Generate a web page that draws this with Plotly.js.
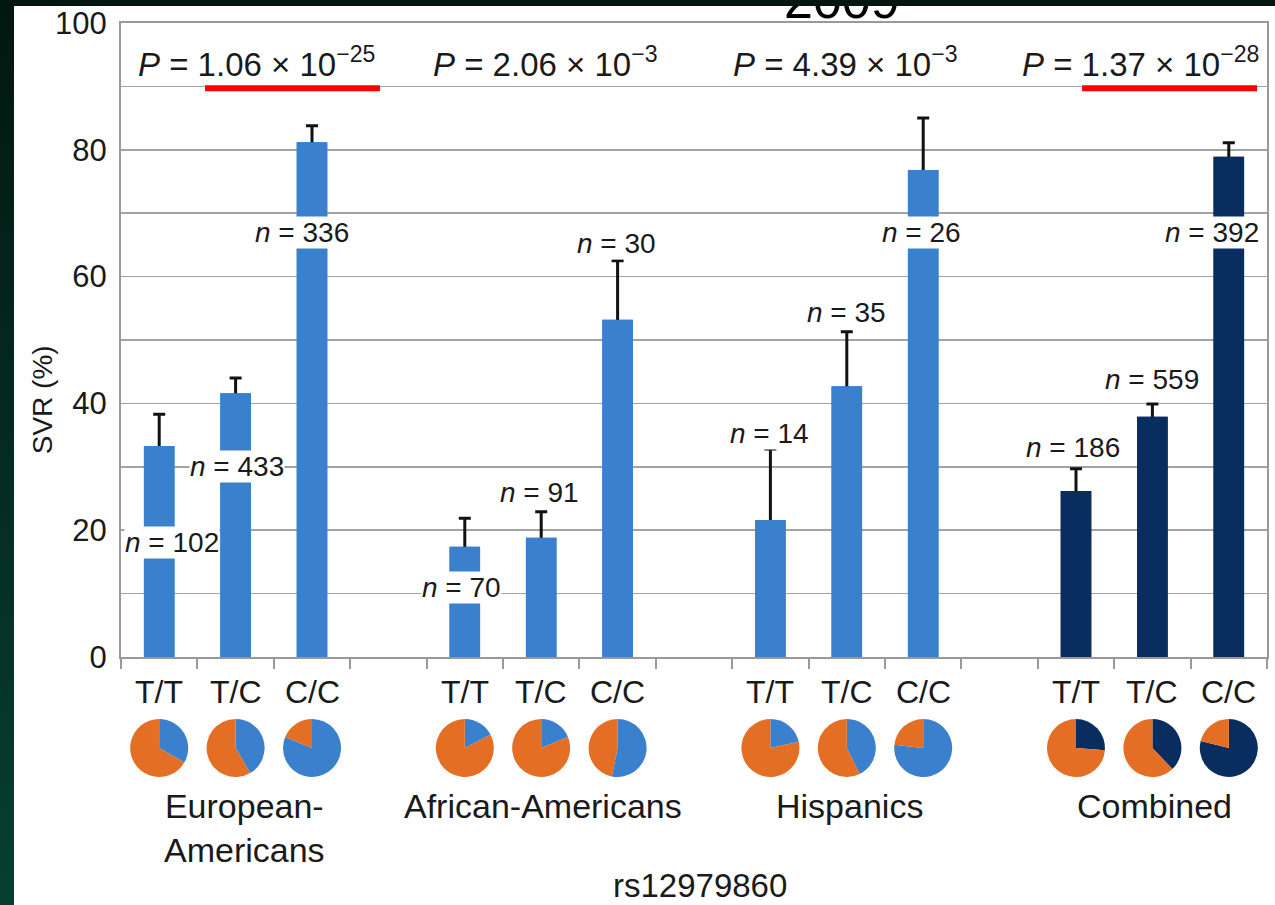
<!DOCTYPE html>
<html><head><meta charset="utf-8">
<script src="https://cdn.plot.ly/plotly-3.0.1.min.js"></script>
<style>
html,body{margin:0;padding:0;width:1275px;height:905px;overflow:hidden;
background:linear-gradient(180deg,#02170f 0%,#04291f 45%,#073f2e 100%);}
#chart{position:absolute;left:14px;top:6px;width:1261px;height:899px;background:#fff;}
</style></head><body><div id="chart"></div>
<script>
// ---- data ----
const groups = ['European-<br>Americans', 'African-Americans', 'Hispanics', 'Combined'];
const genotypes = ['T/T', 'T/C', 'C/C'];
const svrEuropean = [33.3, 41.6, 81.2];
const svrAfrican  = [17.4, 18.8, 53.2];
const svrHispanic = [21.6, 42.7, 76.8];
const svrCombined = [26.2, 37.9, 78.9];
const errEuropean = [38.3, 44.0, 83.8];   // upper end of error bar
const errAfrican  = [21.9, 22.9, 62.5];
const errHispanic = [32.8, 51.3, 85.0];
const errCombined = [29.7, 39.9, 81.1];
const nEuropean = [102, 433, 336];
const nAfrican  = [70, 91, 30];
const nHispanic = [14, 35, 26];
const nCombined = [186, 559, 392];
const pValues = ['1.06 × 10<sup>−25</sup>', '2.06 × 10<sup>−3</sup>', '4.39 × 10<sup>−3</sup>', '1.37 × 10<sup>−28</sup>'];
const xAxisTitle = 'rs12979860';
const yAxisTitle = 'SVR (%)';
const yearLabel = '2009';

// ---- style / layout helpers ----
const BLUE = '#3a80cd', NAVY = '#0a2d5f', ORANGE = '#e46e23', INK = '#1a1a1a', GRID = '#a3a3a3';
const FONT = '"Liberation Sans", Arial, Helvetica, sans-serif';
const NSLOT = 15;
const W = 1261, H = 899, ML = 107, MR = 8, MT = 17, MB = 0;
const PW = W - ML - MR, PH = H - MT - MB;
const yDomain0 = (H - (657 - 6)) / PH;
const pyToFrac = py => (H - (py - 6)) / PH;

const allSvr = [svrEuropean, svrAfrican, svrHispanic, svrCombined];
const allErr = [errEuropean, errAfrican, errHispanic, errCombined];
const allN = [nEuropean, nAfrican, nHispanic, nCombined];
const slotOf = (g, k) => g * 4 + k + 0.5;

const nLabelPos = [
  [[0.17, 18.0], [0.02, 30.0], [-0.13, 67.0]],
  [[-0.04, 11.0], [-0.02, 25.9], [-0.01, 65.3]],
  [[-0.01, 35.3], [0.0, 54.3], [-0.02, 67.0]],
  [[-0.04, 33.1], [-0.01, 43.7], [-0.22, 66.9]]
];
const pLabelX = [1.78, 5.55, 9.48, 13.35];
const underline = [[1.10, 3.39], null, null, [12.58, 14.87]];

const traces = [];
function barTrace(gs, color, withErr) {
  const x = [], y = [], e = [];
  gs.forEach(g => genotypes.forEach((_, k) => {
    x.push(slotOf(g, k)); y.push(allSvr[g][k]); e.push(+(allErr[g][k] - allSvr[g][k]).toFixed(2));
  }));
  const t = {type: 'bar', x, y, width: 0.4, marker: {color, line: {width: 0}}, showlegend: false, hoverinfo: 'y'};
  if (withErr) t.error_y = {type: 'data', symmetric: false, array: e, arrayminus: e.map(() => 1.2),
      color: '#111', thickness: 3, width: 6};
  return t;
}
// bars carrying the error bars, then the same bars on top to hide the lower caps
traces.push(barTrace([0, 1, 2], BLUE, true));
traces.push(barTrace([3], NAVY, true));
traces.push(barTrace([0, 1, 2], BLUE, false));
traces.push(barTrace([3], NAVY, false));

// pies
const pieCY = pyToFrac(748), pieR = 29;
groups.forEach((_, g) => genotypes.forEach((_, k) => {
  const cx = slotOf(g, k) / NSLOT;
  const v = allSvr[g][k];
  traces.push({type: 'pie', values: [v, 100 - v], sort: false, direction: 'clockwise', rotation: 0,
    marker: {colors: [g === 3 ? NAVY : BLUE, ORANGE], line: {width: 0}}, textinfo: 'none', hoverinfo: 'percent',
    showlegend: false,
    domain: {x: [cx - pieR / PW, cx + pieR / PW], y: [pieCY - pieR / PH, pieCY + pieR / PH]}});
}));

const ann = [];
groups.forEach((_, g) => genotypes.forEach((_, k) => {
  const [dx, yy] = nLabelPos[g][k];
  ann.push({xref: 'x', yref: 'y', x: slotOf(g, k) + dx, y: yy, showarrow: false,
    text: '<i>n</i> = ' + allN[g][k], font: {size: 28, color: INK, family: FONT},
    bgcolor: '#ffffff', borderpad: 0});
}));
pValues.forEach((p, g) => {
  ann.push({xref: 'x', yref: 'y', x: pLabelX[g], y: 93.8, showarrow: false,
    text: '<i>P</i> = ' + p, font: {size: 33, color: INK, family: FONT}});
});
groups.forEach((_, g) => genotypes.forEach((gt, k) => {
  ann.push({xref: 'x', yref: 'paper', x: slotOf(g, k), y: pyToFrac(692), yanchor: 'middle', showarrow: false,
    text: gt, font: {size: 32, color: INK, family: FONT}});
}));
groups.forEach((gn, g) => {
  ann.push({xref: 'x', yref: 'paper', x: slotOf(g, 1) + (g === 0 ? 0.11 : 0.03), y: pyToFrac(785), yanchor: 'top',
    showarrow: false, text: gn, font: {size: 34, color: INK, family: FONT}});
});
ann.push({xref: 'paper', yref: 'paper', x: (700 - 121) / PW, y: pyToFrac(885), yanchor: 'middle', showarrow: false,
  text: xAxisTitle, font: {size: 33, color: INK, family: FONT}});
ann.push({xref: 'paper', yref: 'y', x: (42 - 121) / PW, y: 40.5, xanchor: 'center', yanchor: 'middle', textangle: -90,
  showarrow: false, text: yAxisTitle, font: {size: 28, color: INK, family: FONT}});
ann.push({xref: 'paper', yref: 'paper', x: (842 - 121) / PW, y: pyToFrac(0), yanchor: 'middle', showarrow: false,
  text: yearLabel, font: {size: 52, color: '#000', family: FONT}});

const shapes = [];
underline.forEach(u => { if (u) shapes.push({type: 'line', xref: 'x', yref: 'y', x0: u[0], x1: u[1], y0: 89.7, y1: 89.7,
  line: {color: '#ff0000', width: 6}}); });

const layout = {
  width: W, height: H, margin: {l: ML, r: MR, t: MT, b: MB}, paper_bgcolor: '#ffffff', plot_bgcolor: '#ffffff',
  font: {family: FONT, color: INK}, barmode: 'overlay',
  xaxis: {range: [0, NSLOT], tickvals: Array.from({length: NSLOT + 1}, (_, i) => i), ticks: 'outside', ticklen: 10,
    tickwidth: 2, tickcolor: '#999', showticklabels: false, showgrid: false, zeroline: false,
    showline: true, linecolor: '#999', linewidth: 2, mirror: true},
  yaxis: {domain: [yDomain0, 1], range: [0, 100], tickvals: [0, 20, 40, 60, 80, 100], ticks: '',
    showgrid: true, gridcolor: GRID, gridwidth: 1.5, zeroline: false, showline: true, linecolor: '#999', linewidth: 2, mirror: true,
    minor: {dtick: 10, showgrid: true, gridcolor: GRID, gridwidth: 1.5},
    tickfont: {size: 31, color: INK, family: FONT}, ticklabelstandoff: 6, ticklabeloverflow: 'allow'},
  annotations: ann, shapes: shapes
};
Plotly.newPlot('chart', traces, layout, {displayModeBar: false, staticPlot: true});
</script></body></html>
